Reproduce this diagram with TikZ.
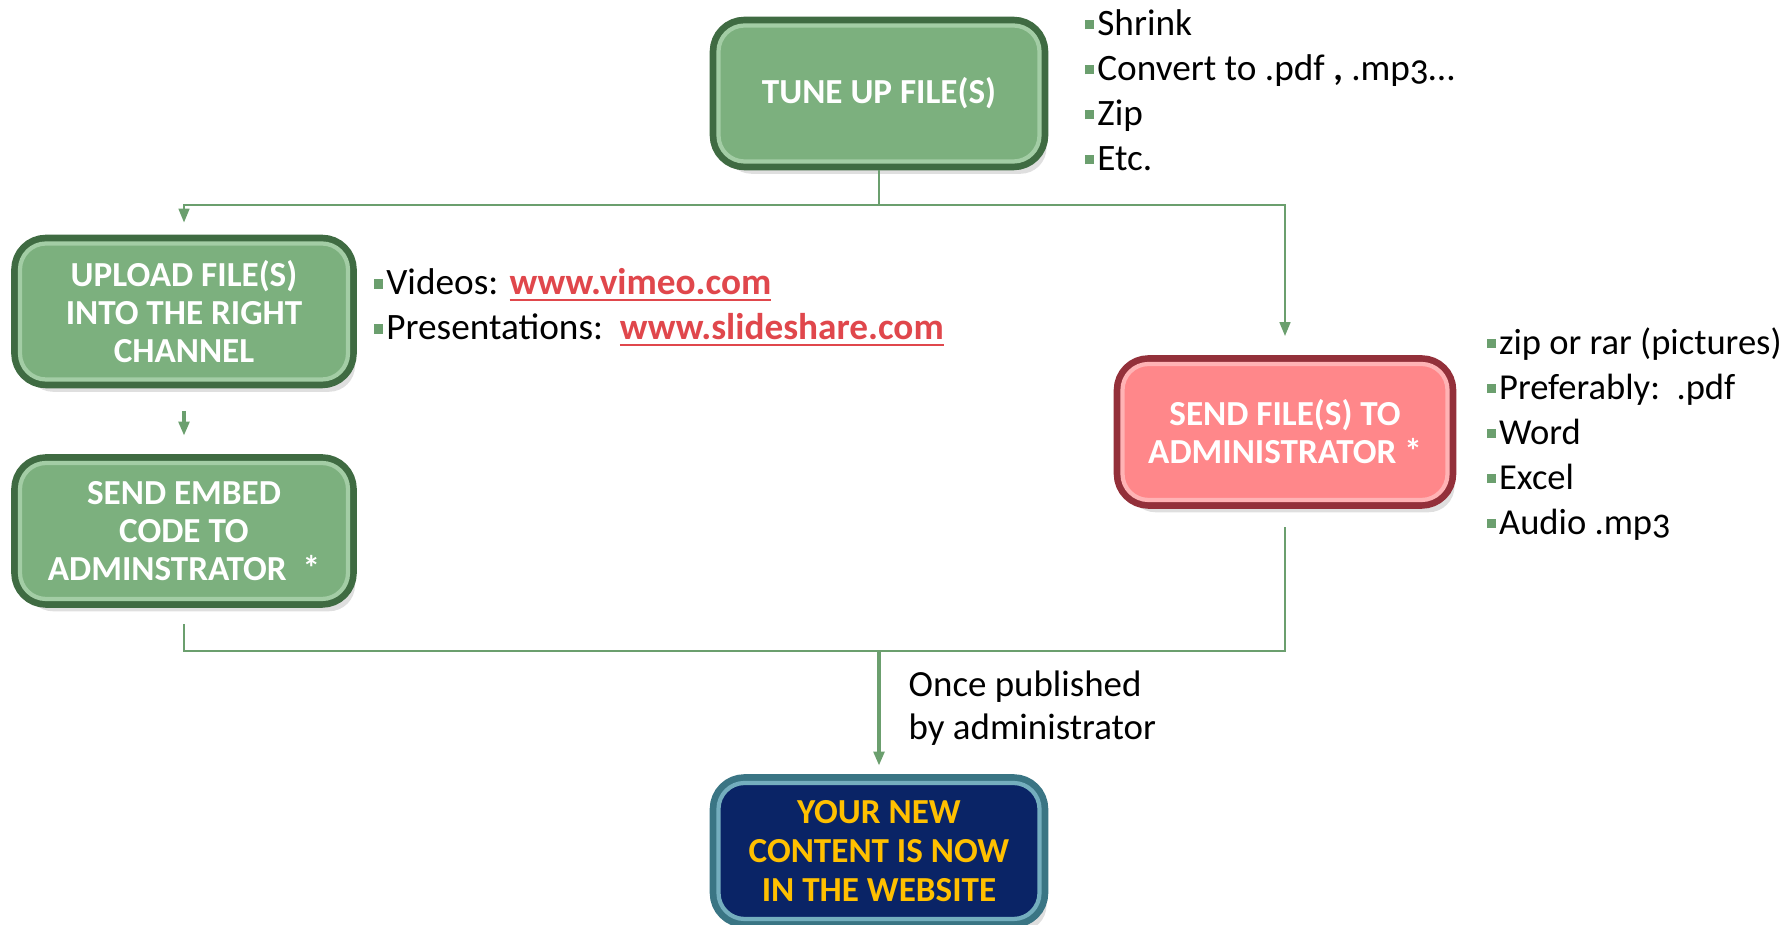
\documentclass[tikz,border=0pt]{standalone}
\usepackage{fontspec}
\setmainfont{Carlito}[Numbers=OldStyle]
\usetikzlibrary{positioning,shadows,arrows.meta}

\definecolor{boxgreen}{HTML}{7CB07E}
\definecolor{boxgreendark}{HTML}{3F6B42}
\definecolor{boxgreenlight}{HTML}{A3CDA5}
\definecolor{boxred}{HTML}{FF878A}
\definecolor{boxreddark}{HTML}{93303A}
\definecolor{boxredlight}{HTML}{FFB3B5}
\definecolor{boxnavy}{HTML}{0A2466}
\definecolor{boxteal}{HTML}{3A7584}
\definecolor{boxteallight}{HTML}{74AEBE}
\definecolor{textgold}{HTML}{FFC000}
\definecolor{linegreen}{HTML}{6B9F6E}
\definecolor{linkred}{HTML}{E0474C}

\newcommand{\bul}{{\color{linegreen}\rule[0.17em]{0.26em}{0.26em}}\hspace{0.08em}}
\newcommand{\weblink}[1]{\textcolor{linkred}{\textbf{\underline{#1}}}}

\begin{document}
\begin{tikzpicture}[
stepbox/.style={rectangle, rounded corners=0.26cm, line width=1.2pt, outer sep=2.5pt, minimum width=3.21cm, minimum height=1.36cm, align=center, text=white, font=\bfseries\fontsize{10}{10.8}\selectfont, drop shadow={opacity=0.25, shadow xshift=2pt, shadow yshift=-3.5pt}},
greenbox/.style={stepbox, fill=boxgreen, draw=boxgreenlight, preaction={draw=boxgreendark, line width=5pt}},
redbox/.style={stepbox, fill=boxred, draw=boxredlight, preaction={draw=boxreddark, line width=5pt}},
navybox/.style={stepbox, fill=boxnavy, draw=boxteallight, text=textgold, font=\bfseries\fontsize{10}{11.2}\selectfont, preaction={draw=boxteal, line width=5pt}},
bullets/.style={anchor=west, align=left, inner sep=0pt, font=\fontsize{10.6}{12.8}\selectfont},
conn/.style={draw=linegreen, line width=0.8pt},
arrow/.style={conn, line width=1pt, -{Triangle[length=4pt, width=3pt]}},
]
\useasboundingbox (0,0) rectangle (17.86,-9.25);

%Nodes
\node[greenbox] (tune)     at (8.79,-0.935) {TUNE UP FILE(S)};
\node[greenbox, minimum width=3.28cm] (upload)   at (1.84,-3.115) {UPLOAD FILE(S)\\INTO THE RIGHT\\CHANNEL};
\node[greenbox, minimum width=3.28cm] (embed)    at (1.84,-5.31) {SEND EMBED\\CODE TO\\ADMINSTRATOR~~*};
\node[redbox, minimum width=3.25cm]   (sendfile) at (12.85,-4.32) {SEND FILE(S) TO\\ADMINISTRATOR *};
\node[navybox]  (website)  at (8.79,-8.51) {YOUR NEW\\CONTENT IS NOW\\IN THE WEBSITE};

%Texts
\node[bullets] (tunelist) at (10.84,-0.905) {\bul Shrink\\\bul Convert to .pdf \textbf{,} .mp3\ldots\\\bul Zip\\\bul Etc.};
\node[bullets] (uploadlist) at (3.73,-3.08) {\bul Videos: \weblink{www.vimeo.com}\\\bul Presentations:\ \ \weblink{www.slideshare.com}};
\node[bullets, font=\fontsize{10.4}{12.8}\selectfont] (sendlist) at (14.86,-4.34) {\bul zip or rar (pictures)\\\bul Preferably:\ \ .pdf\\\bul Word\\\bul Excel\\\bul Audio .mp3};
\node[bullets, font=\fontsize{10.5}{12.3}\selectfont] (published) at (9.08,-7.085) {Once published\\by administrator};

%Lines
\coordinate (topbar) at (8.79,-2.05);
\coordinate (botbar) at (8.79,-6.51);
\draw[conn] (tune.south) -- (topbar);
\draw[arrow, line width=0.8pt, shorten >=0.12cm] (topbar) -| (upload.north);
\draw[arrow, line width=0.8pt, shorten >=0.19cm] (topbar) -| (sendfile.north);
\draw[arrow, shorten <=0.225cm, shorten >=0.185cm] (upload.south) -- (embed.north);
\draw[conn, shorten <=0.165cm] (embed.south) |- (botbar);
\draw[conn, shorten <=0.185cm] (sendfile.south) |- (botbar);
\draw[arrow, line width=1.3pt, shorten >=0.085cm] (botbar) -- (website.north);
\end{tikzpicture}
\end{document}
